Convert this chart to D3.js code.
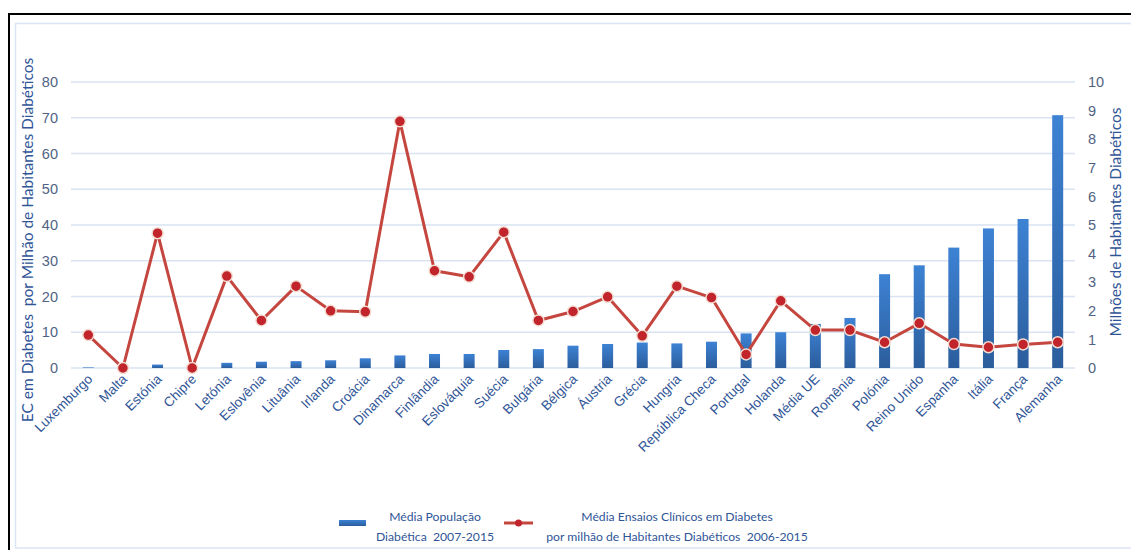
<!DOCTYPE html>
<html>
<head>
<meta charset="utf-8">
<script src="https://cdn.jsdelivr.net/npm/d3@7"></script>
<style>
  body { margin: 0; background: #fff; }
  svg { display: block; font-family: Lato, "Open Sans", sans-serif; }
  svg text { white-space: pre; }
</style>
</head>
<body>
<div id="chart"></div>
<script>
// Dados
const paises = ['Luxemburgo', 'Malta', 'Estónia', 'Chipre', 'Letónia', 'Eslovênia', 'Lituânia', 'Irlanda', 'Croácia',
    'Dinamarca', 'Finlândia', 'Eslováquia', 'Suécia', 'Bulgária', 'Bélgica', 'Áustria', 'Grécia', 'Hungria',
    'República Checa', 'Portugal', 'Holanda', 'Média UE', 'Romênia', 'Polónia', 'Reino Unido', 'Espanha',
    'Itália', 'França', 'Alemanha'];
// Milhões de habitantes diabéticos (eixo direito)
const populacao = [0.02, 0.03, 0.12, 0.08, 0.18, 0.22, 0.24, 0.27, 0.34, 0.44, 0.49, 0.49, 0.63, 0.66, 0.78, 0.84,
    0.89, 0.86, 0.92, 1.21, 1.25, 1.54, 1.75, 3.28, 3.59, 4.21, 4.88, 5.21, 8.84];
// Ensaios clínicos por milhão de habitantes diabéticos (eixo esquerdo)
const ensaios = [9.2, 0, 37.7, 0, 25.7, 13.3, 22.9, 16.0, 15.7, 69.0, 27.2, 25.5, 38.0, 13.3, 15.8, 19.9, 9.0, 22.9,
    19.7, 3.8, 18.8, 10.6, 10.6, 7.2, 12.5, 6.7, 5.8, 6.6, 7.2];
const ticksEsq = [0, 10, 20, 30, 40, 50, 60, 70, 80];
const ticksDir = [0, 1, 2, 3, 4, 5, 6, 7, 8, 9, 10];

const W = 1131, H = 550;
const corTexto = '#2f5597', corTick = '#4f6384', corGrelha = '#d9e3f2';

const svg = d3.select('#chart').append('svg').attr('width', W).attr('height', H);

// Moldura
svg.append('rect').attr('x', 15.5).attr('y', 23.5).attr('width', W).attr('height', 524.5)
    .attr('fill', 'none').attr('stroke', '#dce5f3').attr('stroke-width', 1.5);
svg.append('rect').attr('x', 9).attr('y', 14).attr('width', W + 10).attr('height', H + 10)
    .attr('fill', 'none').attr('stroke', '#000').attr('stroke-width', 2);

// Escalas
const x = d3.scaleBand().domain(paises).range([71, 1075]);
const yL = d3.scaleLinear().domain([0, 80]).range([368, 82]);
const yR = d3.scaleLinear().domain([0, 10]).range([368, 82]);

// Grelha
svg.append('g').selectAll('line').data(ticksEsq).join('line')
    .attr('x1', 71).attr('x2', 1075)
    .attr('y1', d => yL(d)).attr('y2', d => yL(d))
    .attr('stroke', corGrelha).attr('stroke-width', 1.5);

// Eixo esquerdo
const eixoEsq = svg.append('g').attr('transform', 'translate(62,0)')
    .call(d3.axisLeft(yL).tickValues(ticksEsq).tickSize(0).tickPadding(4));
eixoEsq.select('.domain').remove();
eixoEsq.selectAll('text').attr('fill', corTick).style('font-size', '14.5px');

// Eixo direito
const eixoDir = svg.append('g').attr('transform', 'translate(1084,0)')
    .call(d3.axisRight(yR).tickValues(ticksDir).tickSize(0).tickPadding(4));
eixoDir.select('.domain').remove();
eixoDir.selectAll('text').attr('fill', corTick).style('font-size', '14.5px');

// Eixo X
const eixoX = svg.append('g').attr('transform', 'translate(0,368)')
    .call(d3.axisBottom(x).tickSize(0));
eixoX.select('.domain').remove();
eixoX.selectAll('text')
    .attr('fill', corTexto).style('font-size', '13.5px')
    .attr('text-anchor', 'end')
    .attr('dy', null).attr('y', 0)
    .attr('transform', 'translate(5,12) rotate(-45)');

// Títulos dos eixos
svg.append('text')
    .attr('transform', 'translate(33,240) rotate(-90)')
    .attr('text-anchor', 'middle').attr('fill', corTexto).style('font-size', '15.5px')
    .text('EC em Diabetes  por Milhão de Habitantes Diabéticos');
svg.append('text')
    .attr('transform', 'translate(1121,222) rotate(-90)')
    .attr('text-anchor', 'middle').attr('fill', corTexto).style('font-size', '15.5px')
    .text('Milhões de Habitantes Diabéticos');

// Gradiente das barras
const defs = svg.append('defs');
const grad = defs.append('linearGradient').attr('id', 'gradBarra')
    .attr('x1', 0).attr('y1', 0).attr('x2', 0).attr('y2', 1);
grad.append('stop').attr('offset', '0%').attr('stop-color', '#3d82d4');
grad.append('stop').attr('offset', '100%').attr('stop-color', '#2b5d9c');

// Barras
const larguraBarra = 11;
svg.append('g').selectAll('rect').data(populacao).join('rect')
    .attr('x', (d, i) => x(paises[i]) + x.bandwidth() / 2 - larguraBarra / 2)
    .attr('y', d => yR(d))
    .attr('width', larguraBarra)
    .attr('height', d => yR(0) - yR(d))
    .attr('fill', 'url(#gradBarra)');

// Linha
const linha = d3.line()
    .x((d, i) => x(paises[i]) + x.bandwidth() / 2)
    .y(d => yL(d));
svg.append('path').datum(ensaios)
    .attr('d', linha).attr('fill', 'none')
    .attr('stroke', '#c4463f').attr('stroke-width', 3).attr('stroke-linejoin', 'round');

svg.append('g').selectAll('circle').data(ensaios).join('circle')
    .attr('cx', (d, i) => x(paises[i]) + x.bandwidth() / 2)
    .attr('cy', d => yL(d))
    .attr('r', 5.5)
    .attr('fill', '#c1242a').attr('stroke', '#f3ddd3').attr('stroke-width', 1.5);

// Legenda
const leg = svg.append('g').style('font-size', '12.2px').attr('fill', corTexto);
leg.append('rect').attr('x', 339).attr('y', 520).attr('width', 27).attr('height', 6).attr('fill', 'url(#gradBarra)');
leg.append('text').attr('x', 435).attr('y', 521).attr('text-anchor', 'middle').text('Média População');
leg.append('text').attr('x', 435).attr('y', 541).attr('text-anchor', 'middle').text('Diabética  2007-2015');

leg.append('line').attr('x1', 504).attr('x2', 533).attr('y1', 523).attr('y2', 523)
    .attr('stroke', '#c4463f').attr('stroke-width', 3);
leg.append('circle').attr('cx', 518.5).attr('cy', 523).attr('r', 3.5).attr('fill', '#c1242a');
leg.append('text').attr('x', 677).attr('y', 521).attr('text-anchor', 'middle').text('Média Ensaios Clínicos em Diabetes');
leg.append('text').attr('x', 677).attr('y', 541).attr('text-anchor', 'middle').text('por milhão de Habitantes Diabéticos  2006-2015');
</script>
</body>
</html>
